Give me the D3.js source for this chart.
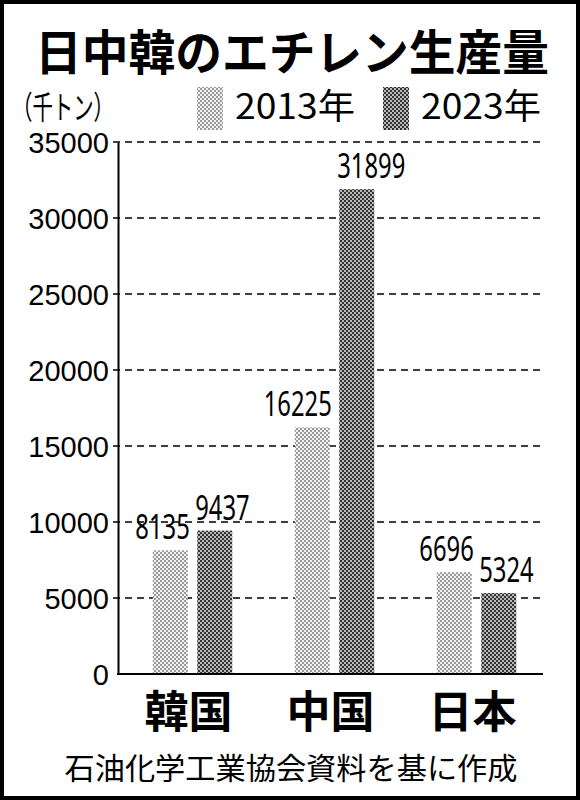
<!DOCTYPE html>
<html>
<head>
<meta charset="utf-8">
<script src="https://cdn.jsdelivr.net/npm/d3@7"></script>
<style>
  html, body { margin: 0; padding: 0; background: #fff; }
  svg { display: block; }
</style>
</head>
<body>
<script>
// ---- Data ----
const categories = ["韓国", "中国", "日本"];
const years = ["2013年", "2023年"];
const values2013 = [8135, 16225, 6696];
const values2023 = [9437, 31899, 5324];
const yTicks = [0, 5000, 10000, 15000, 20000, 25000, 30000, 35000];
const title = "日中韓のエチレン生産量";
const unitLabel = "（千トン）";
const sourceText = "石油化学工業協会資料を基に作成";

const W = 580, H = 800;
const svg = d3.select("body").append("svg").attr("width", W).attr("height", H);

// Patterns
const defs = svg.append("defs");
function makePattern(id, dark, light) {
  const p = defs.append("pattern").attr("id", id).attr("patternUnits", "userSpaceOnUse")
    .attr("width", 4).attr("height", 4);
  p.append("rect").attr("width", 4).attr("height", 4).attr("fill", light);
  p.append("rect").attr("x", 0).attr("y", 0).attr("width", 2).attr("height", 2).attr("fill", dark);
  p.append("rect").attr("x", 2).attr("y", 2).attr("width", 2).attr("height", 2).attr("fill", dark);
}
makePattern("pat0", "#9a9a9a", "#f2f2f2");
makePattern("pat1", "#333333", "#b8b8b8");
const fills = ["url(#pat0)", "url(#pat1)"];

svg.append("rect").attr("width", W).attr("height", H).attr("fill", "#fff");

// Frame
svg.append("rect").attr("x", 2).attr("y", 2).attr("width", W - 4).attr("height", H - 4)
  .attr("fill", "none").attr("stroke", "#000").attr("stroke-width", 4);

// Title
svg.append("text").attr("x", 292).attr("y", 70).attr("text-anchor", "middle")
  .attr("font-family", "Noto Sans CJK JP").attr("font-weight", 700).attr("font-size", 48)
  .attr("textLength", 514).attr("lengthAdjust", "spacingAndGlyphs")
  .text(title);

// Unit label
svg.append("text").attr("x", 12).attr("y", 119)
  .attr("font-family", "Noto Sans CJK JP").attr("font-size", 32)
  .attr("textLength", 102).attr("lengthAdjust", "spacingAndGlyphs")
  .text(unitLabel);

// Legend
const legendX = [197, 383];
years.forEach((yr, i) => {
  svg.append("rect").attr("x", legendX[i]).attr("y", 87).attr("width", 26).attr("height", 43)
    .attr("fill", fills[i]);
  svg.append("text").attr("x", legendX[i] + 38).attr("y", 119)
    .attr("font-family", "Noto Sans CJK JP").attr("font-size", 35)
    .attr("textLength", 120).attr("lengthAdjust", "spacingAndGlyphs")
    .text(yr);
});

// Scales
const y = d3.scaleLinear().domain([0, 35000]).range([674, 142]);
const x0 = d3.scaleBand().domain(categories).range([121.5, 547.5]).paddingInner(0).paddingOuter(0);
const groupW = 79.5;
const x1 = d3.scaleBand().domain(years).range([0, groupW]).paddingInner(0.213);
const groupStart = c => x0(c) + x0.bandwidth() / 2 - groupW / 2;

// Gridlines
svg.append("g").selectAll("line").data(yTicks.filter(t => t > 0)).join("line")
  .attr("x1", 113).attr("x2", 545)
  .attr("y1", d => y(d)).attr("y2", d => y(d))
  .attr("stroke", "#000").attr("stroke-width", 1.4).attr("stroke-dasharray", "7,5");

// Y axis
const yAxis = d3.axisLeft(y).tickValues(yTicks).tickSize(0).tickPadding(9).tickFormat(d => String(d));
const gy = svg.append("g").attr("transform", "translate(118,0)").call(yAxis);
gy.select(".domain").attr("stroke", "#000").attr("stroke-width", 2);
gy.selectAll("text").attr("font-family", "Liberation Sans, Arial, sans-serif")
  .attr("font-size", 29).attr("fill", "#000").attr("dy", "0.36em");

// Bars
const seriesVals = [values2013, values2023];
const bars = [];
categories.forEach((c, ci) => {
  years.forEach((yr, yi) => {
    bars.push({ c, yr, yi, v: seriesVals[yi][ci] });
  });
});
svg.append("g").selectAll("rect").data(bars).join("rect")
  .attr("x", d => groupStart(d.c) + x1(d.yr))
  .attr("y", d => y(d.v))
  .attr("width", x1.bandwidth())
  .attr("height", d => y(0) - y(d.v))
  .attr("fill", d => fills[d.yi]);

// Baseline
svg.append("line").attr("x1", 117).attr("x2", 543).attr("y1", y(0)).attr("y2", y(0))
  .attr("stroke", "#000").attr("stroke-width", 2);

// Value labels
svg.append("g").selectAll("text").data(bars).join("text")
  .attr("transform", d => {
    const bx = groupStart(d.c) + x1(d.yr);
    const tx = d.yi === 0 ? bx + x1.bandwidth() + 2 : bx - 2;
    return `translate(${tx},${y(d.v) - 11}) scale(0.68,1)`;
  })
  .attr("text-anchor", d => d.yi === 0 ? "end" : "start")
  .attr("font-family", "Noto Sans, sans-serif").attr("font-size", 35)
  .text(d => String(d.v));

// Category labels
svg.append("g").selectAll("text").data(categories).join("text")
  .attr("x", c => x0(c) + x0.bandwidth() / 2 - 4)
  .attr("y", 728)
  .attr("text-anchor", "middle")
  .attr("font-family", "Noto Sans CJK JP").attr("font-weight", 700).attr("font-size", 44)
  .text(c => c);

// Source
svg.append("text").attr("x", 291).attr("y", 779).attr("text-anchor", "middle")
  .attr("font-family", "Noto Sans CJK JP").attr("font-size", 30)
  .attr("textLength", 453).attr("lengthAdjust", "spacingAndGlyphs")
  .text(sourceText);
</script>
</body>
</html>
